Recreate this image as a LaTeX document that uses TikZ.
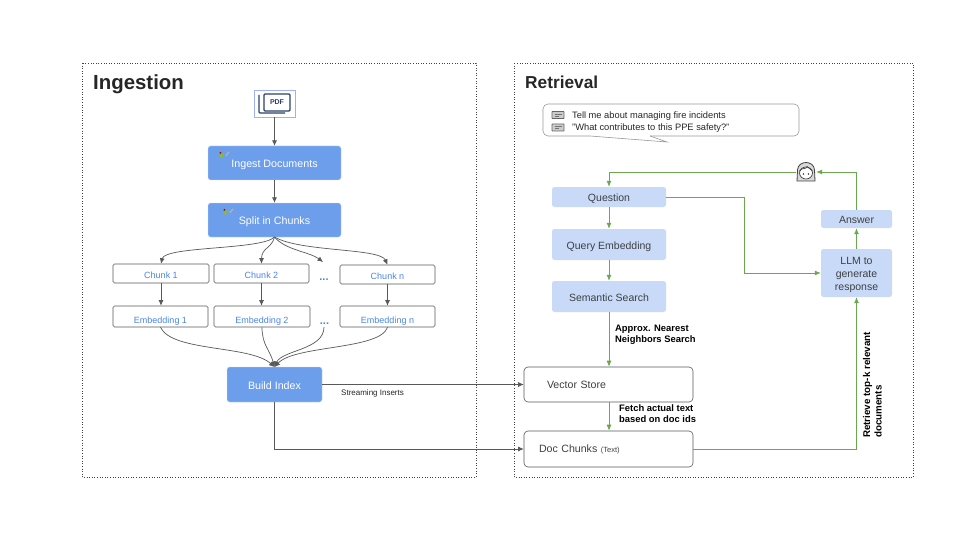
\documentclass[tikz,border=0pt]{standalone}
\usepackage{fontspec}
\setmainfont{Liberation Sans}
\usetikzlibrary{arrows.meta}
\definecolor{bluefill}{HTML}{6D9EEB}
\definecolor{paleblue}{HTML}{C9DAF8}
\definecolor{bluetext}{HTML}{4A86E8}
\definecolor{flowgreen}{HTML}{6AA84F}
\definecolor{flowgray}{HTML}{595959}
\definecolor{inktext}{HTML}{3C4043}
\definecolor{pdfnavy}{HTML}{2B3F66}
\newcommand{\lowtext}[1]{\smash{\raisebox{-1.75pt}{#1}}}
\tikzset{
	frame/.style={draw=black!75, dotted, line width=0.6pt},
	title/.style={text=black!85, anchor=west, inner sep=0pt},
	bluebox/.style={fill=bluefill, draw=paleblue, line width=0.4pt, rounded corners=2.5pt, text=white, font=\fontsize{10.7}{12}\selectfont, inner sep=0pt, text height=9.5pt, text depth=0pt},
	chunkbox/.style={draw=flowgray, line width=0.6pt, rounded corners=1.5pt, text=bluetext, font=\fontsize{9}{10}\selectfont, inner sep=0pt, text height=9.5pt, text depth=0pt},
	palebox/.style={fill=paleblue, rounded corners=2.5pt, text=inktext, font=\fontsize{10.5}{13}\selectfont, inner sep=0pt, align=center},
	oneline/.style={text height=9.5pt, text depth=0pt},
	storebox/.style={draw=flowgray, line width=0.6pt, rounded corners=4pt, text=inktext, font=\fontsize{10.6}{12}\selectfont, inner ysep=0pt, inner xsep=0pt, align=left, text width=169pt, minimum height=35pt, text depth=0pt},
	note/.style={text=black, font=\fontsize{9.4}{11}\selectfont\bfseries, anchor=north west, inner sep=0pt, align=left},
	grayflow/.style={draw=flowgray, line width=0.7pt, -{Latex[length=5.5pt,width=5pt]}},
	greenflow/.style={draw=flowgreen, line width=0.8pt, -{Latex[length=6pt,width=5pt]}},
	dots/.style={text=bluetext, font=\fontsize{11}{11}\selectfont\bfseries, inner sep=0pt},
	pics/chaticon/.style={code={
		\draw[draw=black!60, fill=black!20, line width=0.9pt, rounded corners=0.5pt] (-6,-3.5) rectangle (6,3.5);
		\draw[black!55, line width=0.6pt] (-3.5,-1) -- (3.5,-1) (-3.5,1) -- (1,1);
	}},
	pics/toolicon/.style={code={
		\fill[red!70!black] (-1.5,-3) circle (1.1);
		\fill[flowgreen!80!yellow] (-0.5,-0.5) circle (2.2);
		\draw[gray!60, line width=1.3pt, line cap=round] (7,-4) -- (4,-0.5);
	}},
}
\begin{document}
\begin{tikzpicture}[x=1pt, y=-1pt]
	\useasboundingbox (0,0) rectangle (960,540);
	\fill[white] (0,0) rectangle (960,540);
	% the two panels
	\draw[frame] (82,63) rectangle (476,477);
	\draw[frame] (514,63) rectangle (913,477);
	\node[title, font=\fontsize{20.4}{22}\selectfont\bfseries] (ingestion) at (93,84) {Ingestion};
	\node[title, font=\fontsize{17.3}{18}\selectfont\bfseries] (retrieval) at (525,82.5) {Retrieval};

	% ingestion side
	\node[draw=paleblue!80!blue, line width=0.6pt, minimum width=41pt, minimum height=27pt, inner sep=0pt] (pdf) at (274.5,103.5) {};
	\draw[draw=pdfnavy, line width=1.2pt, rounded corners=1pt] (264,94) rectangle (290,111);
	\draw[draw=pdfnavy, line width=1.2pt, rounded corners=1pt] (259,95) -- (259,113) -- (285,113);
	\node[text=pdfnavy, font=\fontsize{7}{7}\selectfont\bfseries, inner sep=0pt] (pdftext) at (277,102.5) {PDF};

	\node[bluebox, minimum width=133pt, minimum height=34pt] (ingest) at (274.5,163) {Ingest Documents};
	\node[bluebox, minimum width=133pt, minimum height=34pt] (split) at (274.5,220) {Split in Chunks};
	\pic at (222,156) {toolicon};
	\pic at (226,213) {toolicon};

	\node[chunkbox, minimum width=96pt, minimum height=19pt] (chunkA) at (161,273.5) {Chunk 1};
	\node[chunkbox, minimum width=95pt, minimum height=19pt] (chunkB) at (261.5,273.5) {Chunk 2};
	\node[chunkbox, minimum width=95pt, minimum height=19pt] (chunkN) at (387.5,274.5) {Chunk n};
	\node[chunkbox, minimum width=95pt, minimum height=21pt] (embedA) at (160.5,316.5) {\lowtext{Embedding 1}};
	\node[chunkbox, minimum width=96pt, minimum height=21pt] (embedB) at (262,316.5) {\lowtext{Embedding 2}};
	\node[chunkbox, minimum width=95pt, minimum height=21pt] (embedN) at (387.5,316.5) {\lowtext{Embedding n}};
	\node[dots] (dotsA) at (324,280) {...};
	\node[dots] (dotsB) at (324.5,324) {...};
	\coordinate (dotsAin) at (323,262);
	\coordinate (dotsBout) at (324,327);
	\coordinate (splitout) at (274.5,237);
	\coordinate (indexin) at (274.5,367);

	\node[bluebox, minimum width=95pt, minimum height=35pt] (index) at (274.5,384.5) {Build Index};
	\node[anchor=west, inner sep=0pt, text=black!85, font=\fontsize{8}{8}\selectfont] (inserts) at (341,393) {Streaming Inserts};

	\draw[grayflow] (pdf) -- (ingest);
	\draw[grayflow] (ingest) -- (split);
	% fan out to the chunks, fan in to the index
	\draw[grayflow] (splitout) .. controls (262,250) and (165,246) .. (chunkA.north);
	\draw[grayflow] (splitout) .. controls (272,248) and (261.5,248) .. (chunkB.north);
	\draw[grayflow] (splitout) .. controls (285,250) and (310,252) .. (dotsAin);
	\draw[grayflow] (splitout) .. controls (300,252) and (380,248) .. (chunkN.north);
	\draw[grayflow] (chunkA) -- (embedA.north -| chunkA);
	\draw[grayflow] (chunkB) -- (embedB.north -| chunkB);
	\draw[grayflow] (chunkN) -- (embedN.north -| chunkN);
	\draw[grayflow] (embedA.south) .. controls (172,352) and (250,345) .. (indexin);
	\draw[grayflow] (embedB.south) .. controls (262,345) and (270,350) .. (indexin);
	\draw[grayflow] (dotsBout) .. controls (324,350) and (282,350) .. (indexin);
	\draw[grayflow] (embedN.south) .. controls (380,350) and (295,345) .. (indexin);

	% retrieval side
	\draw[draw=black!40, line width=0.6pt, rounded corners=5pt] (650,136) -- (799,136) -- (799,104) -- (543,104) -- (543,136) -- (590,136);
	\draw[draw=black!40, line width=0.6pt] (650,136) -- (667,142) -- (590,136);
	\pic at (558,115) {chaticon};
	\pic at (558,127.5) {chaticon};
	\node[anchor=west, inner sep=0pt, text=black!85, font=\fontsize{9.3}{12.5}\selectfont, align=left] (prompt) at (572,122) {Tell me about managing fire incidents\\"What contributes to this PPE safety?"};

	\node[palebox, oneline, minimum width=114pt, minimum height=20pt] (question) at (609,197) {Question};
	\node[palebox, oneline, minimum width=114pt, minimum height=31pt] (query) at (609,244.5) {Query Embedding};
	\node[palebox, oneline, minimum width=114pt, minimum height=31pt] (semantic) at (609,296.5) {Semantic Search};
	\node[storebox] (vector) at (608.5,384.5) {\hspace*{23pt}Vector Store};
	\node[storebox, minimum height=36pt] (docs) at (608.5,449) {\hspace*{15pt}Doc Chunks {\fontsize{7.5}{8}\selectfont(Text)}};
	\node[palebox, oneline, minimum width=71pt, minimum height=18pt] (answer) at (856.5,219) {Answer};
	\node[palebox, minimum width=71pt, minimum height=48pt] (llm) at (856.5,273) {\rule{0pt}{10.5pt}LLM to\\generate\\response};

	% the user
	\node[minimum width=20pt, minimum height=20pt, inner sep=0pt] (user) at (806,172) {};
	\draw[draw=black!75, fill=black!15, line width=0.8pt] (797,181) -- (797.5,170) .. controls (798,160) and (814,160) .. (814.5,170) -- (815,181) -- cycle;
	\draw[draw=black!75, fill=white, line width=0.7pt] (806,173) ellipse (6.5 and 6);
	\draw[draw=black!75, line width=0.7pt] (799.5,171) .. controls (802,167) and (806,170) .. (807,166.5) .. controls (808,169) and (811,168) .. (812.5,171);
	\fill[black!75] (803.5,174) circle (0.9) (808.5,174) circle (0.9);

	\node[note] (approx) at (615,325) {Approx. Nearest\\Neighbors Search};
	\node[note] (fetch) at (619,404) {Fetch actual text\\based on doc ids};
	\node[note, font=\fontsize{9.8}{11.5}\selectfont\bfseries, anchor=south west, rotate=90] (topk) at (882,438) {Retrieve top-k relevant\\documents};

	\draw[greenflow] (user.west) -| (question.north);
	\draw[greenflow] (question) -- (query);
	\draw[greenflow] (query) -- (semantic);
	\draw[greenflow] (semantic.south) -- (vector.north -| semantic.south);
	\draw[greenflow] (vector.south -| semantic.south) -- (docs.north -| semantic.south);
	\draw[greenflow] (question.east) -- (744,197) |- (llm.west);
	\draw[greenflow] (docs.east) -| (llm.south);
	\draw[greenflow] (llm) -- (answer);
	\draw[greenflow] (answer.north) |- (user.east);

	\draw[grayflow] (index.east) -- (vector.west);
	\draw[grayflow] (index.south) |- (docs.west);
\end{tikzpicture}
\end{document}
